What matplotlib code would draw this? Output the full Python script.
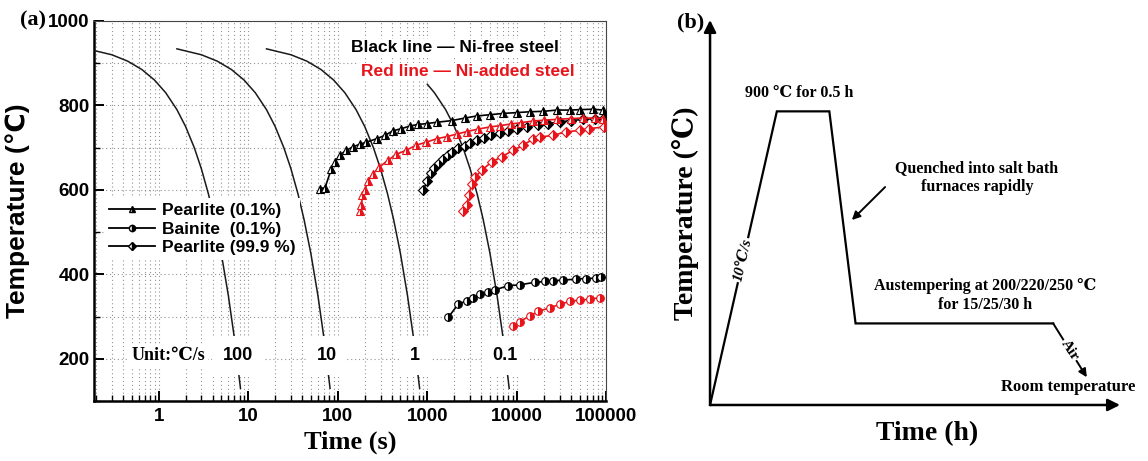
import matplotlib
matplotlib.use('Agg')
import matplotlib.pyplot as plt
from matplotlib.lines import Line2D
from matplotlib.ticker import FixedLocator, LogLocator, MultipleLocator, NullFormatter

SANS = ['Liberation Sans', 'DejaVu Sans']
SERIF = ['Liberation Serif', 'DejaVu Serif']
RED = '#e8141c'

# ---- panel (a) data (time in s, temperature in C)
rate_names = ['100', '10', '1', '0.1']
rate_label_t = [7.6, 75, 725, 7370]

cool_100_t = [0.19, 0.3, 0.45, 0.65, 0.9, 1.2, 1.6, 2.0, 2.5, 3.0, 3.6, 4.2, 5.0, 6.0, 7.0, 8.2]
cool_100_T = [930, 920, 905, 885, 860, 830, 790, 750, 700, 650, 590, 530, 450, 350, 250, 130]
cool_10_t = [1.6, 3.0, 4.5, 6.5, 9.0, 12, 16, 20, 25, 30, 36, 42, 50, 60, 70, 82]
cool_10_T = [934, 920, 905, 885, 860, 830, 790, 750, 700, 650, 590, 530, 450, 350, 250, 130]
cool_1_t = [16, 30, 45, 65, 90, 120, 160, 200, 250, 300, 360, 420, 500, 600, 700, 820]
cool_1_T = [934, 920, 905, 885, 860, 830, 790, 750, 700, 650, 590, 530, 450, 350, 250, 130]
cool_01_t = [1000, 1200, 1600, 2000, 2500, 3000, 3600, 4200, 5000, 6000, 7000, 8200]
cool_01_T = [850, 830, 790, 750, 700, 650, 590, 530, 450, 350, 250, 130]

# Ni-free steel (black)
bk_p01_t = [63, 72, 85, 93, 105, 125, 148, 176, 209, 271, 335, 415, 514, 637, 789, 980,
            1268, 1862, 2620, 3550, 5000, 7030, 9900, 14000, 19700, 27700, 39100, 50000, 71000, 91000]
bk_p01_T = [603, 605, 650, 666, 682, 694, 702, 708, 713, 721, 729, 740, 745, 751, 755, 757,
            760, 764, 770, 775, 778, 781, 783, 785, 786, 789, 789, 790, 791, 789]
bk_p999_t = [900, 1000, 1100, 1200, 1350, 1500, 1700, 1900, 2200, 2600, 3000, 3600, 4300,
             5200, 6500, 8000, 10000, 13000, 17000, 22000, 30000, 40000, 55000, 75000, 95000]
bk_p999_T = [600, 622, 640, 652, 664, 674, 683, 690, 698, 705, 711, 717, 723,
             729, 735, 740, 745, 750, 754, 757, 761, 764, 767, 769, 771]
bk_b01_t = [1710, 2210, 2740, 3240, 3860, 4700, 5680, 7950, 10700, 15800, 20500, 25400,
            32800, 46200, 59700, 77200, 87000]
bk_b01_T = [298, 329, 337, 345, 353, 358, 363, 373, 375, 381, 383, 385,
            386, 389, 390, 391, 393]

# Ni-added steel (red)
rd_p01_t = [176, 184, 188, 200, 217, 246, 292, 363, 450, 582, 753, 977, 1268, 1637, 2120,
            2750, 3700, 5000, 6500, 8500, 11000, 15000, 20000, 28000, 40000, 55000, 75000, 92000]
rd_p01_T = [551, 563, 587, 599, 622, 638, 654, 670, 684, 694, 706, 713, 721, 726, 732,
            738, 744, 749, 752, 756, 759, 763, 765, 767, 769, 770, 770, 769]
rd_p999_t = [2510, 2750, 2900, 3130, 3400, 4030, 5210, 6740, 9110, 11800, 15200, 18000,
             25000, 35000, 50000, 64000, 93000]
rd_p999_T = [551, 563, 587, 614, 630, 646, 666, 678, 694, 706, 721, 725,
             729, 737, 741, 745, 749]
rd_b01_t = [9100, 10800, 14000, 17300, 23400, 30200, 38900, 50200, 64800, 84300]
rd_b01_T = [278, 288, 302, 312, 321, 329, 336, 339, 341, 345]

# ---- panel (b) data: schematic heat-treatment route
prof_t = [0, 16.3, 29.1, 35.5, 83.7]
prof_T = [0, 900, 900, 250, 250]
air_t = [83.7, 91.9]
air_T = [250, 85]

fig = plt.figure(figsize=(11.48, 4.61), dpi=100)

# ================= panel (a)
ax = fig.add_axes([0.0819, 0.1302, 0.4464, 0.8243])
ax.set_xscale('log')
ax.set_xlim(0.19, 1e5)
ax.set_ylim(100, 1000)

for tt, TT in [(cool_100_t, cool_100_T), (cool_10_t, cool_10_T),
               (cool_1_t, cool_1_T), (cool_01_t, cool_01_T)]:
  ax.plot(tt, TT, color='#1a1a1a', lw=1.1, zorder=3)

def series(t, T, marker, color, ms):
  ax.plot(t, T, color=color, lw=1.2, marker=marker, ms=ms, fillstyle='right',
          markerfacecolor=color, markerfacecoloralt='white', markeredgecolor=color,
          markeredgewidth=0.8, zorder=4)

series(bk_p01_t, bk_p01_T, '^', 'k', 6)
series(bk_p999_t, bk_p999_T, 'D', 'k', 5)
series(bk_b01_t, bk_b01_T, 'o', 'k', 5.5)
series(rd_p01_t, rd_p01_T, '^', RED, 6)
series(rd_p999_t, rd_p999_T, 'D', RED, 5)
series(rd_b01_t, rd_b01_T, 'o', RED, 5.5)

ax.xaxis.set_major_locator(FixedLocator([1, 10, 100, 1000, 10000, 100000]))
ax.set_xticklabels(['1', '10', '100', '1000', '10000', '100000'])
ax.xaxis.set_minor_locator(LogLocator(base=10, subs=range(2, 10), numticks=20))
ax.xaxis.set_minor_formatter(NullFormatter())
ax.yaxis.set_major_locator(MultipleLocator(200))
ax.yaxis.set_minor_locator(MultipleLocator(100))
ax.set_yticks([200, 400, 600, 800, 1000])

ax.grid(True, which='both', color='#939393', linestyle=(0, (1, 2.5)), lw=0.8, zorder=0)
ax.tick_params(which='major', direction='in', length=7, width=1.4, pad=5)
ax.tick_params(which='minor', direction='in', length=4, width=1.0)
for lab in ax.get_xticklabels() + ax.get_yticklabels():
  lab.set_family(SANS)
  lab.set_weight('bold')
  lab.set_fontsize(13.5)
ax.tick_params(axis='y', pad=3)

for s in ['left', 'bottom']:
  ax.spines[s].set_linewidth(1.8)
for s in ['top', 'right']:
  ax.spines[s].set_linewidth(0.8)
  ax.spines[s].set_color('#444444')

ax.set_ylabel('Temperature (℃)', family=SANS, weight='bold', fontsize=19)
ax.yaxis.set_label_coords(-0.125, 0.5)
ax.set_xlabel('Time (s)', family=SERIF, weight='bold', fontsize=19)
ax.xaxis.set_label_coords(0.5, -0.11)
ax.xaxis.label.set_va('center')

# cooling-rate labels along 200 C
ax.text(1.3, 207, 'Unit:℃/s', family=SERIF, weight='bold', fontsize=13,
        ha='center', va='center', zorder=5,
        bbox=dict(boxstyle='square,pad=0.15', fc='white', ec='none'))
for name, tl in zip(rate_names, rate_label_t):
  ax.text(tl, 207, name, family=SANS, weight='bold', fontsize=13,
          ha='center', va='center', zorder=5,
          bbox=dict(boxstyle='square,pad=0.6', fc='white', ec='none'))

# colour key, top right
ax.text(0.501, 0.929, 'Black line — Ni-free steel', transform=ax.transAxes,
        family=SANS, weight='bold', fontsize=12.5, color='k', va='center', zorder=5,
        bbox=dict(boxstyle='square,pad=0.1', fc='white', ec='none'))
ax.text(0.521, 0.866, 'Red line — Ni-added steel', transform=ax.transAxes,
        family=SANS, weight='bold', fontsize=12.5, color=RED, va='center', zorder=5,
        bbox=dict(boxstyle='square,pad=0.1', fc='white', ec='none'))

# symbol legend
handles = [
  Line2D([], [], color='k', lw=1.3, marker='^', ms=4.5, fillstyle='right',
         markerfacecolor='k', markerfacecoloralt='white', markeredgecolor='k'),
  Line2D([], [], color='k', lw=1.3, marker='o', ms=4.5, fillstyle='right',
         markerfacecolor='k', markerfacecoloralt='white', markeredgecolor='k'),
  Line2D([], [], color='k', lw=1.3, marker='D', ms=4, fillstyle='right',
         markerfacecolor='k', markerfacecoloralt='white', markeredgecolor='k'),
]
labels = ['Pearlite (0.1%)', 'Bainite  (0.1%)', 'Pearlite (99.9 %)']
leg = ax.legend(handles, labels, loc='upper left', bbox_to_anchor=(0.02, 0.535),
                frameon=True, framealpha=1, fancybox=False, edgecolor='none',
                prop=dict(family=SANS, weight='bold', size=12.5),
                handlelength=2.6, handletextpad=0.4, labelspacing=0.2,
                borderpad=0.3, borderaxespad=0)
leg.set_zorder(6)

fig.text(0.017, 0.955, '(a)', family=SERIF, weight='bold', fontsize=16, va='center')

# ================= panel (b)
bx = fig.add_axes([0.6185, 0.1215, 0.3571, 0.8351])
bx.set_xlim(0, 100)
bx.set_ylim(0, 1180)
bx.axis('off')

arr = dict(arrowstyle='-|>', lw=1.8, color='k', mutation_scale=18, shrinkA=0, shrinkB=0)
bx.annotate('', xy=(0, 1180), xytext=(0, 0), arrowprops=arr, annotation_clip=False)
bx.annotate('', xy=(100, 0), xytext=(0, 0), arrowprops=arr, annotation_clip=False)

bx.plot(prof_t, prof_T, color='k', lw=1.6, clip_on=False, solid_joinstyle='miter')
bx.annotate('', xy=(air_t[1], air_T[1]), xytext=(air_t[0], air_T[0]),
            arrowprops=dict(arrowstyle='-|>', lw=1.4, color='k', mutation_scale=12,
                            shrinkA=0, shrinkB=0), annotation_clip=False)
bx.annotate('', xy=(34.6, 567), xytext=(42.7, 668),
            arrowprops=dict(arrowstyle='-|>', lw=1.4, color='k', mutation_scale=12,
                            shrinkA=0, shrinkB=0))

tb = dict(family=SERIF, weight='bold', fontsize=11.5, ha='center', va='center')
bx.text(21.7, 956, '900 ℃ for 0.5 h', **tb)
bx.text(65.1, 696, 'Quenched into salt bath\nfurnaces rapidly', linespacing=1.25, **tb)
bx.text(67.1, 337, 'Austempering at 200/220/250 ℃\nfor 15/25/30 h', linespacing=1.25, **tb)
bx.text(87.3, 55, 'Room temperature', family=SERIF, weight='bold', fontsize=12,
        ha='center', va='center', clip_on=False)
bx.text(8.0, 444, '10℃/s', family=SERIF, weight='bold', style='italic', fontsize=11,
        rotation=77, ha='center', va='center', rotation_mode='anchor',
        bbox=dict(boxstyle='square,pad=0.05', fc='white', ec='none'))
bx.text(87.8, 168, 'Air', family=SERIF, weight='bold', fontsize=11,
        rotation=-57, ha='center', va='center', rotation_mode='anchor',
        bbox=dict(boxstyle='square,pad=0.05', fc='white', ec='none'))

fig.text(0.597, 0.538, 'Temperature (℃)', family=SERIF, weight='bold', fontsize=20,
         rotation=90, ha='center', va='center')
fig.text(0.808, 0.06, 'Time (h)', family=SERIF, weight='bold', fontsize=20,
         ha='center', va='center')
fig.text(0.590, 0.952, '(b)', family=SERIF, weight='bold', fontsize=16, va='center')

fig.savefig('out.png', dpi=100)
